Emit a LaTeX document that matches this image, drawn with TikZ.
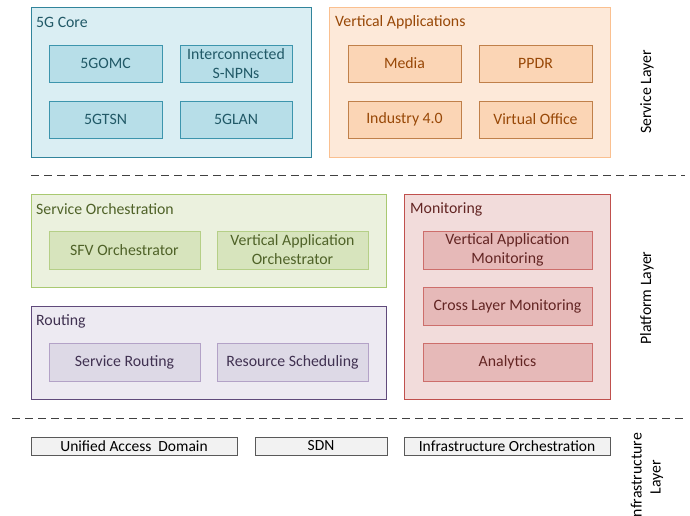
\documentclass[tikz,border=0pt]{standalone}
\usepackage{fontspec}
\setmainfont{Carlito}
\begin{document}
\begin{tikzpicture}[x=1pt,y=-1pt,
  every node/.style={font=\fontsize{15.8}{19}\selectfont, inner sep=0pt, align=center},
  group/.style={draw, line width=0.9pt, rectangle},
  item/.style={draw, line width=0.9pt, rectangle},
  title/.style={anchor=west},
  coreouter/.style={group, draw=cTealDark, fill=cTealLight},
  coreitem/.style={item, draw=cTealMid, fill=cTealFill, text=cTealText, minimum width=113pt, minimum height=37pt},
  vaouter/.style={group, draw=cOrgBorder, fill=cOrgLight},
  vaitem/.style={item, draw=cOrgMid, fill=cOrgFill, text=cOrgText, minimum width=113pt, minimum height=37pt},
  soouter/.style={group, draw=cGrnBorder, fill=cGrnLight},
  soitem/.style={item, draw=cGrnMid, fill=cGrnFill, text=cGrnText, minimum width=151pt, minimum height=38pt},
  rtouter/.style={group, draw=cPurBorder, fill=cPurLight},
  rtitem/.style={item, draw=cPurMid, fill=cPurFill, text=cPurText, minimum width=151pt, minimum height=38pt},
  mnouter/.style={group, draw=cRedBorder, fill=cRedLight},
  mnitem/.style={item, draw=cRedMid, fill=cRedFill, text=cRedText, minimum width=169pt, minimum height=38pt},
  infra/.style={draw=cGrayBorder, fill=cGrayFill, line width=0.8pt, minimum height=18pt, font=\fontsize{15.5}{18}\selectfont},
  layer/.style={rotate=90},
  sep/.style={dashed, dash pattern=on 8pt off 5pt, line width=0.9pt, draw=cSep}
]
\definecolor{cTealDark}{HTML}{31849B}
\definecolor{cTealLight}{HTML}{DAEEF3}
\definecolor{cTealMid}{HTML}{3D95AD}
\definecolor{cTealFill}{HTML}{B7DEE8}
\definecolor{cTealText}{HTML}{215967}
\definecolor{cOrgBorder}{HTML}{FAC090}
\definecolor{cOrgLight}{HTML}{FDE9D9}
\definecolor{cOrgMid}{HTML}{C0804A}
\definecolor{cOrgFill}{HTML}{FBD5B5}
\definecolor{cOrgText}{HTML}{984807}
\definecolor{cGrnBorder}{HTML}{A9C971}
\definecolor{cGrnLight}{HTML}{EBF1DE}
\definecolor{cGrnMid}{HTML}{B5CF87}
\definecolor{cGrnFill}{HTML}{D7E4BD}
\definecolor{cGrnText}{HTML}{4F6228}
\definecolor{cPurBorder}{HTML}{604A7B}
\definecolor{cPurLight}{HTML}{EDEAF2}
\definecolor{cPurMid}{HTML}{B3A2C7}
\definecolor{cPurFill}{HTML}{DDD9E6}
\definecolor{cPurText}{HTML}{403151}
\definecolor{cRedBorder}{HTML}{C0504D}
\definecolor{cRedLight}{HTML}{F2DCDB}
\definecolor{cRedMid}{HTML}{CD6E6B}
\definecolor{cRedFill}{HTML}{E6B9B8}
\definecolor{cRedText}{HTML}{632523}
\definecolor{cGrayBorder}{HTML}{595959}
\definecolor{cGrayFill}{HTML}{F2F2F2}
\definecolor{cSep}{HTML}{404040}

\clip (0,0) rectangle (690,516);
\useasboundingbox (0,0) rectangle (690,516);

% Service layer: 5G core
\node[coreouter, minimum width=280pt, minimum height=150pt] (core) at (171,82) {};
\node[title, text=cTealText] (coret) at (36,22) {5G Core};
\node[coreitem] (omc) at (105.5,63.5) {5GOMC};
\node[coreitem, minimum width=112pt] (snpn) at (236,63.5) {Interconnected\\S-NPNs};
\node[coreitem] (tsn) at (105.5,119.5) {5GTSN};
\node[coreitem, minimum width=112pt] (lan) at (236,119.5) {5GLAN};

% Service layer: vertical applications
\node[vaouter, minimum width=281pt, minimum height=150pt] (va) at (469.5,82) {};
\node[title, text=cOrgText] (vat) at (335,22) {Vertical Applications};
\node[vaitem] (media) at (404.5,63.5) {Media};
\node[vaitem] (ppdr) at (535.5,63.5) {PPDR};
\node[vaitem] (ind) at (404.5,119.5) {Industry 4.0};
\node[vaitem] (vo) at (535.5,119.5) {Virtual Office};

\node[layer] (sl) at (647,92) {Service Layer};

% separator between service and platform layers
\coordinate (s1a) at (31,175);
\coordinate (s1b) at (685,175);
\draw[sep] (s1a) -- (s1b);

% Platform layer: service orchestration
\node[soouter, minimum width=355pt, minimum height=93pt] (so) at (208.5,240.5) {};
\node[title, text=cGrnText] (sot) at (36,209) {Service Orchestration};
\node[soitem] (sfv) at (124.5,250) {SFV Orchestrator};
\node[soitem] (vao) at (292.5,250) {Vertical Application\\Orchestrator};

% Platform layer: routing
\node[rtouter, minimum width=355pt, minimum height=93pt] (rt) at (208.5,352.5) {};
\node[title, text=cPurText] (rtt) at (36,321) {Routing};
\node[rtitem] (sr) at (124.5,362) {Service Routing};
\node[rtitem] (rs) at (292.5,362) {Resource Scheduling};

% Platform layer: monitoring
\node[mnouter, minimum width=206pt, minimum height=205pt] (mn) at (507,296.5) {};
\node[title, text=cRedText] (mnt) at (410,209) {Monitoring};
\node[mnitem] (vam) at (507.5,250) {Vertical Application\\Monitoring};
\node[mnitem] (clm) at (507.5,306) {Cross Layer Monitoring};
\node[mnitem] (an) at (507.5,362) {Analytics};

\node[layer] (pl) at (647,298) {Platform Layer};

% separator between platform and infrastructure layers
\coordinate (s2a) at (12,418);
\coordinate (s2b) at (685,418);
\draw[sep] (s2a) -- (s2b);

% Infrastructure layer
\node[infra, minimum width=206pt] (uad) at (134,446) {Unified Access\ \ Domain};
\node[infra, minimum width=132pt] (sdn) at (321,446) {SDN};
\node[infra, minimum width=206pt] (io) at (507,446) {Infrastructure Orchestration};

\node[layer] (il) at (647,477) {Infrastructure\\Layer};
\end{tikzpicture}
\end{document}
